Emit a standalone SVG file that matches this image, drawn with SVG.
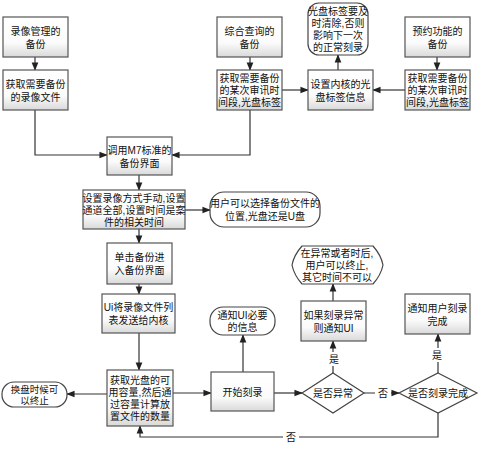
<svg xmlns="http://www.w3.org/2000/svg" width="480" height="450" viewBox="0 0 480 450">
<defs>
<linearGradient id="g" x1="0" y1="0" x2="0" y2="1">
<stop offset="0" stop-color="#ffffff"/>
<stop offset="0.65" stop-color="#fbfbfb"/>
<stop offset="1" stop-color="#d9d9d9"/>
</linearGradient>
<marker id="a" viewBox="0 0 10 10" refX="9" refY="5" markerWidth="7" markerHeight="7" orient="auto">
<path d="M0,1 L10,5 L0,9 Z" fill="#222"/>
</marker>
<style>
.b{fill:url(#g);stroke:#555;stroke-width:1.2}
.r{fill:#fff;stroke:#444;stroke-width:1.2}
.t{font-family:"Liberation Sans","Noto Sans CJK SC",sans-serif;font-size:10px;fill:#111;text-anchor:middle;dominant-baseline:central}
.s{font-size:9.5px}
.c{fill:none;stroke:#333;stroke-width:1.2;marker-end:url(#a)}
</style>
</defs>
<rect width="480" height="450" fill="#fff"/>
<g id="connectors">
<path class="c" d="M35,57 V70"/>
<path class="c" d="M35,110 V155 H107"/>
<path class="c" d="M250,57 V70"/>
<path class="c" d="M250,110 V155 H172"/>
<path class="c" d="M282,90 H308"/>
<path class="c" d="M405,90 H373"/>
<path class="c" d="M338,70 V55"/>
<path class="c" d="M437,57 V70"/>
<path class="c" d="M139,175 V190"/>
<path class="c" d="M185,210 H210"/>
<path class="c" d="M139,229 V243"/>
<path class="c" d="M139,284 V294"/>
<path class="c" d="M139,333 V370"/>
<path class="c" d="M107,394 H67"/>
<path class="c" d="M173,393 H211"/>
<path class="c" d="M243,372 V335"/>
<path class="c" d="M274,393 H302"/>
<path class="c" d="M333,373 V341"/>
<path class="c" d="M333,301 V284"/>
<path class="c" d="M364,393 H399"/>
<path class="c" d="M438,373 V334"/>
<path class="c" d="M438,413 V437 H140 V426"/>
<rect x="326" y="352" width="16" height="14" fill="#fff"/>
<text class="t" x="334" y="359">是</text>
<rect x="375" y="386" width="16" height="14" fill="#fff"/>
<text class="t" x="383" y="393">否</text>
<rect x="430" y="348" width="16" height="14" fill="#fff"/>
<text class="t" x="437" y="355">是</text>
<rect x="283" y="430" width="16" height="14" fill="#fff"/>
<text class="t" x="291" y="437">否</text>
</g>
<g id="n1"><rect class="b" x="3" y="17" width="65" height="40"/><text class="t" x="35.5" y="31">录像管理的</text><text class="t" x="35.5" y="44">备份</text></g>
<g id="n2"><rect class="b" x="3" y="70" width="65" height="40"/><text class="t" x="35.5" y="84">获取需要备份</text><text class="t" x="35.5" y="97">的录像文件</text></g>
<g id="n3"><rect class="b" x="217" y="17" width="65" height="40"/><text class="t" x="249.5" y="31">综合查询的</text><text class="t" x="249.5" y="44">备份</text></g>
<g id="n4"><rect class="b" x="217" y="70" width="65" height="40"/><text class="t" x="249.5" y="78">获取需要备份</text><text class="t" x="249.5" y="90">的某次审讯时</text><text class="t" x="249.5" y="102">间段,光盘标签</text></g>
<g id="n5"><rect class="r" x="308" y="3" width="60" height="52" rx="11"/><text class="t" x="338" y="11">光盘标签要及</text><text class="t" x="338" y="23">时清除,否则</text><text class="t" x="338" y="35">影响下一次</text><text class="t" x="338" y="47">的正常刻录</text></g>
<g id="n6"><rect class="b" x="308" y="70" width="65" height="40"/><text class="t" x="340.5" y="84">设置内核的光</text><text class="t" x="340.5" y="97">盘标签信息</text></g>
<g id="n7"><rect class="b" x="405" y="17" width="65" height="40"/><text class="t" x="437.5" y="31">预约功能的</text><text class="t" x="437.5" y="44">备份</text></g>
<g id="n8"><rect class="b" x="405" y="70" width="65" height="40"/><text class="t" x="437.5" y="78">获取需要备份</text><text class="t" x="437.5" y="90">的某次审讯时</text><text class="t" x="437.5" y="102">间段,光盘标签</text></g>
<g id="n9"><rect class="b" x="107" y="137" width="65" height="38"/><text class="t" x="139.5" y="150">调用M7标准的</text><text class="t" x="139.5" y="163">备份界面</text></g>
<g id="n10"><rect class="b" x="83" y="190" width="102" height="39"/><text class="t" x="134" y="198">设置录像方式手动,设置</text><text class="t" x="134" y="210">通道全部,设置时间是案</text><text class="t" x="134" y="222">件的相关时间</text></g>
<g id="n11"><rect class="r" x="210" y="192" width="110" height="35" rx="14"/><text class="t" x="265" y="203">用户可以选择备份文件的</text><text class="t" x="265" y="216">位置,光盘还是U盘</text></g>
<g id="n12"><rect class="b" x="107" y="243" width="65" height="41"/><text class="t" x="139.5" y="257">单击备份进</text><text class="t" x="139.5" y="270">入备份界面</text></g>
<g id="n13"><rect class="b" x="102" y="294" width="73" height="39"/><text class="t" x="138.5" y="307">Ui将录像文件列</text><text class="t" x="138.5" y="320">表发送给内核</text></g>
<g id="n14"><rect class="b" x="107" y="370" width="66" height="56"/><text class="t" x="140" y="380">获取光盘的可</text><text class="t" x="140" y="392">用容量,然后通</text><text class="t" x="140" y="404">过容量计算放</text><text class="t" x="140" y="416">置文件的数量</text></g>
<g id="n15"><rect class="r" x="2" y="382" width="65" height="25" rx="12"/><text class="t s" x="34.5" y="389">换盘时候可</text><text class="t s" x="34.5" y="400">以终止</text></g>
<g id="n16"><rect class="b" x="211" y="372" width="63" height="39"/><text class="t" x="242.5" y="392">开始刻录</text></g>
<g id="n17"><rect class="r" x="210" y="307" width="65" height="28" rx="13"/><text class="t" x="242.5" y="315">通知UI必要</text><text class="t" x="242.5" y="327">的信息</text></g>
<g id="n18"><path class="r" d="M333,373 L364,393 L333,413 L302,393 Z"/><text class="t" x="333" y="393">是否异常</text></g>
<g id="n19"><rect class="b" x="301" y="301" width="65" height="40"/><text class="t" x="333.5" y="315">如果刻录异常</text><text class="t" x="333.5" y="328">则通知UI</text></g>
<g id="n20"><path class="r" d="M302,246 L373,246 Q381,255 383,265 Q381,275 373,284 L302,284 Q294,275 292,265 Q294,255 302,246 Z"/><text class="t" x="337" y="253">在异常或者时后,</text><text class="t" x="337" y="265">用户可以终止,</text><text class="t" x="337" y="277">其它时间不可以</text></g>
<g id="n21"><path class="r" d="M438,373 L477,393 L438,413 L399,393 Z"/><text class="t" x="438" y="393">是否刻录完成</text></g>
<g id="n22"><rect class="b" x="405" y="294" width="65" height="40"/><text class="t" x="437.5" y="308">通知用户刻录</text><text class="t" x="437.5" y="321">完成</text></g>
</svg>
